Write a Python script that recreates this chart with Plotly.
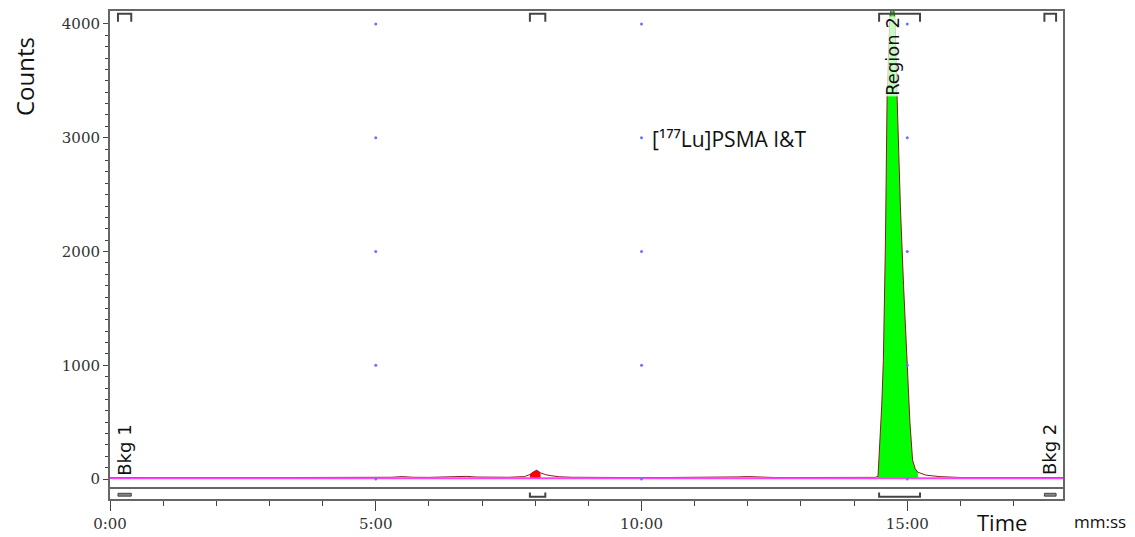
import numpy as np
import plotly.graph_objects as go

# ---------------- data ----------------
time_min = [0.0, 0.5, 1.0, 1.5, 2.0, 2.5, 3.0, 3.5, 4.0, 4.5, 5.0, 5.3, 5.5, 5.7,
            6.0, 6.3, 6.5, 6.7, 6.9, 7.2, 7.5, 7.8, 7.9, 7.97, 8.03, 8.1, 8.2, 8.3,
            8.45, 8.7, 9.0, 9.5, 10.0, 10.5, 11.0, 11.5, 11.8, 12.0, 12.2, 12.5,
            13.0, 13.5, 14.0, 14.4, 14.45, 14.48, 14.52, 14.55, 14.59, 14.62, 14.67,
            14.72, 14.77, 14.81, 14.87, 14.93, 15.0, 15.05, 15.1, 15.15, 15.2, 15.35,
            15.6, 15.8, 16.0, 16.5, 17.0, 17.5, 17.93]
counts = [14, 13, 14, 13, 14, 13, 14, 14, 13, 14, 14, 16, 22, 16,
          15, 18, 22, 24, 18, 15, 16, 22, 40, 65, 78, 55, 38, 30,
          20, 16, 14, 14, 13, 14, 14, 15, 19, 22, 18, 14,
          14, 13, 14, 15, 25, 250, 650, 1040, 2100, 3340, 4050,
          4200, 4050, 3340, 2400, 1700, 1040, 500, 166, 90, 60, 35,
          22, 16, 14, 14, 13, 14, 14]

baseline_level = 8

region_names = ["Bkg 1", "", "Region 2", "Bkg 2"]
region_start = [0.15, 7.90, 14.47, 17.58]
region_end = [0.40, 8.19, 15.24, 17.80]
region_kind = ["bkg", "roi", "roi", "bkg"]
region_fill = [None, "#ff0000", "#00ff00", None]
region_label_x = [0.28, None, 14.73, 17.69]

grid_x = [5, 10, 15]
grid_y = [0, 1000, 2000, 3000, 4000]

x_tickvals = [0, 5, 10, 15]
x_ticktext = ["0:00", "5:00", "10:00", "15:00"]
x_minor = [1, 2, 3, 4, 6, 7, 8, 9, 11, 12, 13, 14, 16, 17]
y_tickvals = [0, 1000, 2000, 3000, 4000]
y_minor = [v for v in range(100, 4000, 100) if v % 1000 != 0]

compound_label = "[¹⁷⁷Lu]PSMA I&amp;T"

# ---------------- figure ----------------
X_RANGE = [0, 17.93]
Y_RANGE = [-175, 4114]

t = np.array(time_min)
c = np.array(counts)

fig = go.Figure()

# region fills
for s, e, col in zip(region_start, region_end, region_fill):
    if col is None:
        continue
    m = (t >= s - 0.03) & (t <= e + 0.001)
    fig.add_trace(go.Scatter(x=t[m], y=c[m], mode="lines", line=dict(width=0, color=col),
                             fill="tozeroy", fillcolor=col, hoverinfo="skip", showlegend=False))

# chromatogram
fig.add_trace(go.Scatter(x=time_min, y=counts, mode="lines",
                         line=dict(color="#8b1a1a", width=1), showlegend=False))

# baseline
fig.add_trace(go.Scatter(x=X_RANGE, y=[baseline_level, baseline_level], mode="lines",
                         line=dict(color="#ff40ff", width=2), showlegend=False))

# grid dots
gx = [x for x in grid_x for _ in grid_y]
gy = [y for _ in grid_x for y in grid_y]
fig.add_trace(go.Scatter(x=gx, y=gy, mode="markers",
                         marker=dict(size=3, color="#7070ff"), showlegend=False, hoverinfo="skip"))

shapes = []
# inner line of region strip
shapes.append(dict(type="line", xref="paper", yref="y", x0=0, x1=1, y0=-79, y1=-79,
                   line=dict(color="#666666", width=2)))
for s, e, kind in zip(region_start, region_end, region_kind):
    # top bracket
    shapes.append(dict(type="path", xref="x", yref="y",
                       path=f"M {s},4020 L {s},4090 L {e},4090 L {e},4020",
                       line=dict(color="#444444", width=2)))
    if kind == "bkg":
        shapes.append(dict(type="rect", xref="x", yref="y", x0=s, x1=e, y0=-150, y1=-125,
                           line=dict(color="#444444", width=1), fillcolor="#888888"))
    else:
        shapes.append(dict(type="path", xref="x", yref="y",
                           path=f"M {s},-118 L {s},-155 L {e},-155 L {e},-118",
                           line=dict(color="#444444", width=2)))

annotations = []
for name, lx in zip(region_names, region_label_x):
    if not name:
        continue
    if name.startswith("Region"):
        annotations.append(dict(x=lx, y=4075, xref="x", yref="y", text=name, textangle=-90,
                                showarrow=False, xanchor="center", yanchor="top",
                                font=dict(family="DejaVu Sans", size=18, color="#111111"),
                                bgcolor="rgba(255,255,255,0.75)", borderpad=0))
    else:
        annotations.append(dict(x=lx, y=15, xref="x", yref="y", text=name, textangle=-90,
                                showarrow=False, xanchor="center", yanchor="bottom",
                                font=dict(family="DejaVu Sans", size=18, color="#111111")))

annotations.append(dict(x=10.16, y=2993, xref="x", yref="y", text=compound_label,
                        showarrow=False, xanchor="left", yanchor="middle",
                        font=dict(family="Open Sans", size=21, color="#111111")))
annotations.append(dict(x=-0.089, y=0.865, xref="paper", yref="paper", text="Counts",
                        textangle=-90, showarrow=False, xanchor="center", yanchor="middle",
                        font=dict(family="Open Sans", size=24, color="#111111")))
annotations.append(dict(x=0.936, y=-0.047, xref="paper", yref="paper", text="Time",
                        showarrow=False, xanchor="center", yanchor="middle",
                        font=dict(family="Open Sans", size=22, color="#111111")))
annotations.append(dict(x=1.039, y=-0.047, xref="paper", yref="paper", text="mm:ss",
                        showarrow=False, xanchor="center", yanchor="middle",
                        font=dict(family="Open Sans", size=17, color="#111111")))

# page body has an 8px margin: figure is sized/positioned to compensate
fig.update_layout(
    width=1127, height=529,
    margin=dict(l=102, r=72, t=1, b=38),
    paper_bgcolor="white", plot_bgcolor="white",
    shapes=shapes, annotations=annotations, showlegend=False,
    xaxis=dict(range=X_RANGE, showgrid=False, zeroline=False,
               showline=True, mirror=True, linecolor="#666666", linewidth=2,
               tickmode="array", tickvals=x_tickvals, ticktext=x_ticktext,
               ticks="outside", ticklen=10, tickcolor="#444444", tickwidth=1,
               minor=dict(tickmode="array", tickvals=x_minor, ticks="outside", ticklen=5,
                          tickcolor="#444444", tickwidth=1),
               tickfont=dict(family="DejaVu Serif", size=15, color="#333333")),
    yaxis=dict(range=Y_RANGE, showgrid=False, zeroline=False,
               showline=True, mirror=True, linecolor="#666666", linewidth=2,
               tickmode="array", tickvals=y_tickvals,
               ticks="outside", ticklen=5, tickcolor="#444444", tickwidth=1,
               minor=dict(tickmode="array", tickvals=y_minor, ticks="outside", ticklen=3,
                          tickcolor="#444444", tickwidth=1),
               tickfont=dict(family="DejaVu Serif", size=15, color="#333333")),
)

fig.write_html("out.html")
